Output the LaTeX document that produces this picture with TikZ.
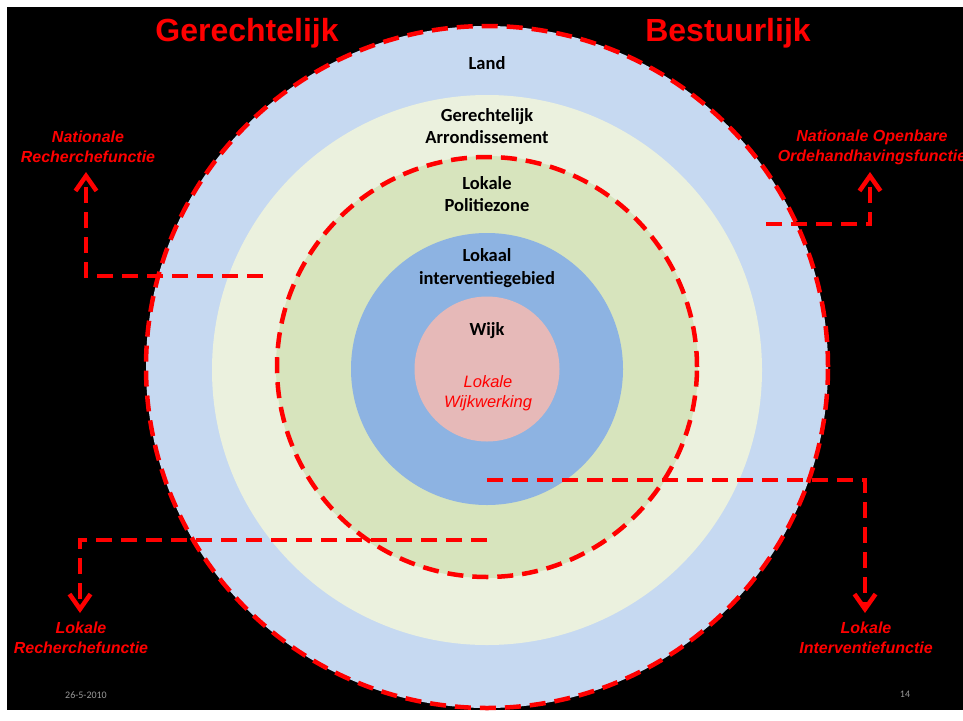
\documentclass[tikz,border=0pt]{standalone}
\usepackage{fontspec}
\usetikzlibrary{arrows.meta}
\newfontfamily\carl{Carlito}
\newfontfamily\arl{Liberation Sans}
\definecolor{landc}{HTML}{C6D9F1}
\definecolor{arrc}{HTML}{EBF1DE}
\definecolor{polc}{HTML}{D7E4BD}
\definecolor{intc}{HTML}{8DB3E2}
\definecolor{wijkc}{HTML}{E6B9B8}
\definecolor{redc}{HTML}{FF0000}
\tikzset{
  ring/.style={circle, inner sep=0pt, draw=none},
  reddash/.style={draw=redc, line width=4.5pt, dash pattern=on 16pt off 9pt},
  redarrow/.style={reddash, -{Straight Barb[length=15pt,width=21pt]}},
  circlbl/.style={font=\carl\bfseries\fontsize{18.5}{22.5}\selectfont, align=center, text=black, inner sep=0pt},
  funclbl/.style={font=\arl\bfseries\itshape\fontsize{16}{20}\selectfont, align=center, text=redc, inner sep=0pt},
  titlelbl/.style={font=\arl\bfseries\fontsize{32}{36}\selectfont, text=redc, inner sep=0pt},
  footlbl/.style={font=\carl\fontsize{10}{12}\selectfont, text=gray!80, inner sep=0pt}
}
\begin{document}
\begin{tikzpicture}[x=1pt,y=-1pt]
\useasboundingbox (0,0) rectangle (963,720);
\fill[white] (0,0) rectangle (963,720);
\fill[black] (7,7) rectangle (963,710);
% rings
\node[ring, fill=landc, minimum size=682pt] (land) at (487,367) {};
\draw[reddash] (land.center) circle[radius=341pt];
\node[ring, fill=arrc, minimum size=550pt] (arr) at (487,370) {};
\node[ring, fill=polc, minimum size=422pt] (pol) at (487,367) {};
\node[ring, fill=intc, minimum size=272pt] (int) at (487,369) {};
\node[ring, fill=wijkc, minimum size=145pt] (wijk) at (487,369) {};
\draw[reddash] (pol.center) circle[radius=210pt];
% circle labels
\node[circlbl] (tland) at (487,63) {Land};
\node[circlbl] (tarr) at (487,126) {Gerechtelijk\\Arrondissement};
\node[circlbl] (tpol) at (487,194) {Lokale\\Politiezone};
\node[circlbl] (tint) at (487,268) {Lokaal\\interventiegebied};
\node[circlbl] (twijk) at (487,331) {Wijk};
\node[font=\arl\itshape\fontsize{16.5}{20}\selectfont, align=center, text=redc, inner sep=0pt] (twerk) at (488,393) {Lokale\\Wijkwerking};
% titles
\node[titlelbl] (tger) at (247,33) {Gerechtelijk};
\node[titlelbl] (tbes) at (728,33) {Bestuurlijk};
% function labels
\node[funclbl] (natrech) at (88,147) {Nationale\\Recherchefunctie};
\node[funclbl] (natopen) at (872,147) {Nationale Openbare\\Ordehandhavingsfunctie};
\node[funclbl] (lokrech) at (81,638) {Lokale\\Recherchefunctie};
\node[funclbl] (lokint) at (866,638) {Lokale\\Interventiefunctie};
% connector points
\coordinate (s1) at (263,276);
\coordinate (e1) at (86,172);
\coordinate (s2) at (766,224);
\coordinate (e2) at (870,172);
\coordinate (s3) at (487,540);
\coordinate (e3) at (80,613);
\coordinate (s4) at (487,480);
\coordinate (e4) at (865,613);
\draw[redarrow] (s1) -| (e1);
\draw[redarrow] (s2) -| (e2);
\draw[redarrow] (s3) -| (e3);
\draw[redarrow] (s4) -| (e4);
% footer
\node[footlbl] (date) at (86,695) {26-5-2010};
\node[footlbl] (page) at (905,694) {14};
\end{tikzpicture}
\end{document}
